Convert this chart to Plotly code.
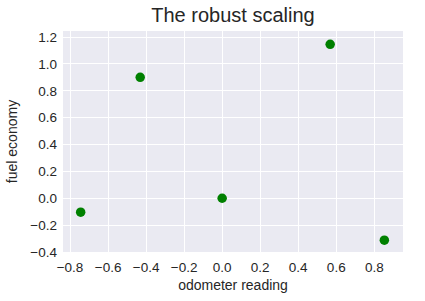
import plotly.graph_objects as go

odometer = [-0.744, -0.431, 0.0, 0.568, 0.853]
fuel = [-0.104, 0.900, 0.0, 1.146, -0.312]

x_ticks = [-0.8, -0.6, -0.4, -0.2, 0.0, 0.2, 0.4, 0.6, 0.8]
y_ticks = [-0.4, -0.2, 0.0, 0.2, 0.4, 0.6, 0.8, 1.0, 1.2]

font = "Liberation Sans, Arial, sans-serif"
fig = go.Figure(go.Scatter(x=odometer, y=fuel, mode="markers",
                           marker=dict(color="#008000", size=9.5, line=dict(width=0))))
fig.update_layout(
    width=425, height=301,
    margin=dict(l=63, r=22, t=31, b=49),
    paper_bgcolor="white", plot_bgcolor="#eaeaf2",
    font=dict(family=font, color="#262626", size=13.5),
    title=dict(text="The robust scaling", x=0.5, xanchor="center", xref="paper",
               y=1, yref="container", yanchor="top", pad=dict(t=8),
               font=dict(size=20, color="#262626")),
    showlegend=False,
)
fig.update_xaxes(range=[-0.837, 0.951], tickvals=x_ticks, tickformat=".1f",
                 showgrid=True, gridcolor="white", gridwidth=1, zeroline=False,
                 showline=False, ticks="", ticklabelstandoff=5,
                 tickfont=dict(size=13.5),
                 title=dict(text="odometer reading", standoff=6, font=dict(size=14)))
fig.update_yaxes(range=[-0.4, 1.245], tickvals=y_ticks, tickformat=".1f",
                 showgrid=True, gridcolor="white", gridwidth=1, zeroline=False,
                 showline=False, ticks="", ticklabelstandoff=5,
                 tickfont=dict(size=13.5),
                 title=dict(text="fuel economy", standoff=9, font=dict(size=14)))
fig.write_html("out.html")
